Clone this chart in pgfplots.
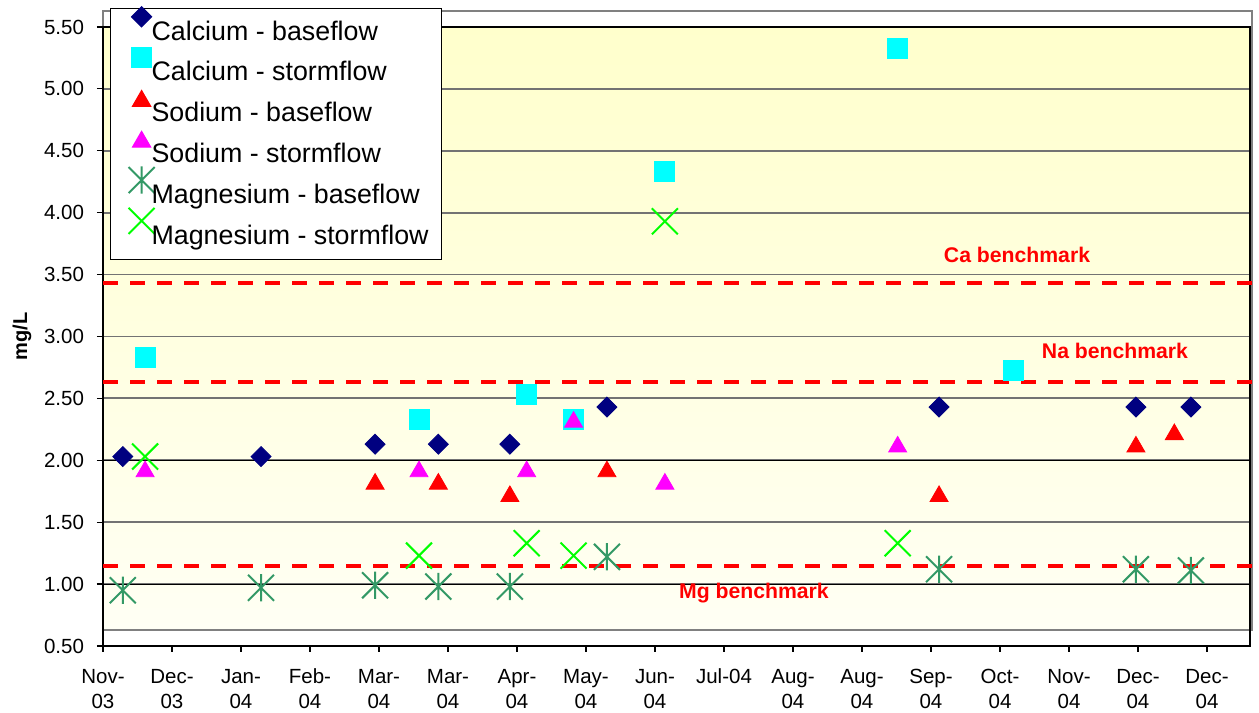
\documentclass[border=0pt]{standalone}
\usepackage{fontspec}
\setmainfont{Liberation Sans}
\usepackage{pgfplots}
\pgfplotsset{compat=1.18}

\definecolor{cabase}{RGB}{0,0,128}
\definecolor{castorm}{RGB}{0,255,255}
\definecolor{nabase}{RGB}{255,0,0}
\definecolor{nastorm}{RGB}{255,0,255}
\definecolor{mgbase}{RGB}{51,153,102}
\definecolor{mgstorm}{RGB}{0,255,0}
\definecolor{plotyellow}{RGB}{255,255,204}
\definecolor{plotpale}{RGB}{255,255,244}

% excel-like asterisk: an x with a vertical bar
\pgfdeclareplotmark{xstar}{%
  \pgfpathmoveto{\pgfqpoint{-\pgfplotmarksize}{-\pgfplotmarksize}}%
  \pgfpathlineto{\pgfqpoint{\pgfplotmarksize}{\pgfplotmarksize}}%
  \pgfpathmoveto{\pgfqpoint{-\pgfplotmarksize}{\pgfplotmarksize}}%
  \pgfpathlineto{\pgfqpoint{\pgfplotmarksize}{-\pgfplotmarksize}}%
  \pgfpathmoveto{\pgfqpoint{0pt}{-1.05\pgfplotmarksize}}%
  \pgfpathlineto{\pgfqpoint{0pt}{1.05\pgfplotmarksize}}%
  \pgfusepathqstroke}
\pgfdeclareplotmark{bigx}{%
  \pgfpathmoveto{\pgfqpoint{-\pgfplotmarksize}{-\pgfplotmarksize}}%
  \pgfpathlineto{\pgfqpoint{\pgfplotmarksize}{\pgfplotmarksize}}%
  \pgfpathmoveto{\pgfqpoint{-\pgfplotmarksize}{\pgfplotmarksize}}%
  \pgfpathlineto{\pgfqpoint{\pgfplotmarksize}{-\pgfplotmarksize}}%
  \pgfusepathqstroke}

\begin{document}
\begin{tikzpicture}
\begin{axis}[
    set layers,
    scale only axis,
    width=573.5pt, height=309.5pt,
    xmin=0, xmax=498.7,
    ymin=0.5, ymax=5.5,
    clip=false,
    xtick={0,30,...,480},
    xticklabels={{Nov-\\03},{Dec-\\03},{Jan-\\04},{Feb-\\04},{Mar-\\04},{Mar-\\04},
                 {Apr-\\04},{May-\\04},{Jun-\\04},{Jul-04},{Aug-\\04},{Aug-\\04},
                 {Sep-\\04},{Oct-\\04},{Nov-\\04},{Dec-\\04},{Dec-\\04}},
    ytick={0.5,1,...,5.5},
    /pgf/number format/fixed,
    /pgf/number format/fixed zerofill,
    /pgf/number format/precision=2,
    /pgf/number format/assume math mode=true,
    tick label style={font=\fontsize{10.25}{12}\selectfont},
    xticklabel style={align=center, yshift=-5pt, font=\fontsize{10.25}{12.5}\selectfont},
    yticklabel style={xshift=-3pt},
    tick align=outside,
    major tick length=3pt,
    xtick pos=bottom, ytick pos=left,
    tick style={black, line width=0.6pt},
    axis line style={black, line width=0.7pt},
    ymajorgrids,
    grid style={black!55, line width=0.9pt},
    extra y ticks={1,2},
    extra y tick labels={},
    extra y tick style={grid style={black, line width=0.5pt}},
    ylabel={\bfseries mg/L},
    ylabel style={at={(axis description cs:-0.0706,0.5)}, anchor=center,
                  font=\fontsize{10}{12}\selectfont},
    legend style={at={(axis description cs:0.0061,1.0307)}, anchor=north west,
                  draw=black, line width=0.6pt, fill=white,
                  font=\fontsize{13.4}{15}\selectfont,
                  row sep=5.2pt, inner xsep=4.5pt, inner ysep=4pt},
    legend cell align=left,
    legend image code/.code={%
      \path[draw=none, fill=none] (0pt,-2pt) rectangle (14pt,2pt);
      \draw[#1,/tikz/only marks,overlay] plot coordinates {(11pt,7.5pt)};},
]
\begin{pgfonlayer}{axis background}
  \shade[top color=plotyellow, bottom color=plotpale]
     (axis cs:0,0.63) rectangle (axis cs:498.7,5.5);
  \draw[black!50, line width=1pt] (axis cs:0,0.63) rectangle (axis cs:499.6,5.63);
\end{pgfonlayer}

\addplot[only marks, mark=diamond*, mark size=5pt, color=cabase,
         mark options={xscale=4/3}]
  coordinates {(8.6,2.03) (68.7,2.03) (118.3,2.13) (145.8,2.13) (176.9,2.13)
               (219.1,2.43) (363.5,2.43) (449.1,2.43) (473.0,2.43)};
\addlegendentry{Calcium - baseflow}
\addplot[only marks, mark=square*, mark size=5pt, color=castorm]
  coordinates {(18.3,2.83) (137.4,2.33) (184.2,2.53) (204.6,2.33) (244.3,4.33)
               (345.5,5.33) (395.7,2.73)};
\addlegendentry{Calcium - stormflow}
\addplot[only marks, mark=triangle*, mark size=5.2pt, color=nabase,
         mark options={yshift=-1.3pt}]
  coordinates {(118.3,1.83) (145.8,1.83) (176.9,1.73) (219.1,1.93) (363.5,1.73)
               (449.1,2.13) (465.8,2.23)};
\addlegendentry{Sodium - baseflow}
\addplot[only marks, mark=triangle*, mark size=5.2pt, color=nastorm,
         mark options={yshift=-1.3pt}]
  coordinates {(18.3,1.93) (137.4,1.93) (184.2,1.93) (204.6,2.33) (244.3,1.83)
               (345.5,2.13)};
\addlegendentry{Sodium - stormflow}
\addplot[only marks, mark=xstar, mark size=6.5pt, color=mgbase,
         mark options={line width=1pt}]
  coordinates {(8.6,0.95) (68.7,0.97) (118.3,0.99) (145.8,0.98) (176.9,0.98)
               (219.1,1.22) (363.5,1.12) (449.1,1.12) (473.0,1.11)};
\addlegendentry{Magnesium - baseflow}
\addplot[only marks, mark=bigx, mark size=6.5pt, color=mgstorm,
         mark options={line width=1pt}]
  coordinates {(18.3,2.03) (137.4,1.23) (184.2,1.33) (204.6,1.23) (244.3,3.93)
               (345.5,1.33)};
\addlegendentry{Magnesium - stormflow}

% benchmarks
\addplot[forget plot, red, line width=2pt, dash pattern=on 7.5pt off 6pt]
  coordinates {(0,3.43) (502.6,3.43)};
\addplot[forget plot, red, line width=2pt, dash pattern=on 7.5pt off 6pt]
  coordinates {(0,2.635) (502.6,2.635)};
\addplot[forget plot, red, line width=2pt, dash pattern=on 7.5pt off 6pt]
  coordinates {(0,1.15) (502.6,1.15)};
\node[red, font=\bfseries\fontsize{10.6}{12}\selectfont] at (axis cs:397.4,3.66) {Ca benchmark};
\node[red, font=\bfseries\fontsize{10.6}{12}\selectfont] at (axis cs:440,2.885) {Na benchmark};
\node[red, font=\bfseries\fontsize{10.6}{12}\selectfont] at (axis cs:283,0.928) {Mg benchmark};
\end{axis}
\pgfresetboundingbox
\useasboundingbox ([shift={(-51.5pt,-33.5pt)}]current axis.south west)
   rectangle ([shift={(4.5pt,13.5pt)}]current axis.north east);
\end{tikzpicture}
\end{document}
